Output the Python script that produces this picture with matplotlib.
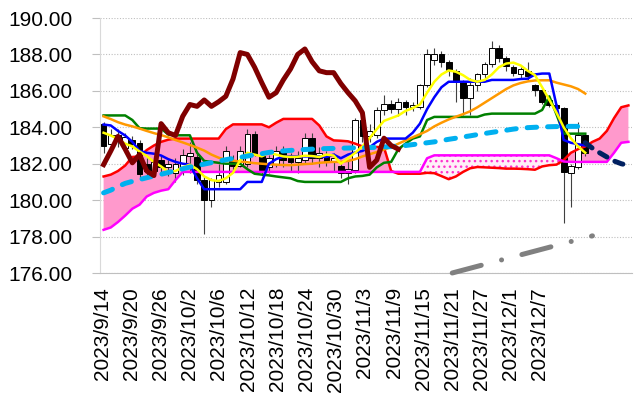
import numpy as np
import matplotlib.pyplot as plt
from matplotlib.ticker import FormatStrFormatter

plt.rcParams['font.family'] = ['Liberation Sans', 'DejaVu Sans']

# daily candles (one per trading day, category axis)
opens = [184.2, 183.1, 183.6, 182.85, 183.3, 183.14, 182.0, 181.6, 182.2, 181.8,
         181.5, 181.8, 182.4, 182.37, 181.12, 180.0, 181.0, 181.0, 182.2, 181.9,
         182.0, 183.65, 182.4, 181.8, 182.0, 182.7, 182.3, 182.1, 182.2, 183.4,
         182.3, 182.5, 182.1, 181.9, 181.5, 181.65, 184.4, 183.5, 183.6, 184.95,
         185.3, 185.0, 185.4, 185.1, 185.13, 186.32, 187.7, 188.05, 187.6, 187.1,
         186.5, 185.6, 186.3, 186.9, 187.5, 188.35, 187.8, 187.3, 186.95, 187.1,
         186.3, 186.05, 185.5, 185.25, 185.06, 181.5, 181.8, 183.6]
highs = [184.3, 183.9, 183.9, 183.7, 183.5, 183.3, 182.3, 182.4, 182.5, 182.2,
         182.3, 182.8, 183.2, 182.6, 181.3, 181.2, 182.0, 183.0, 182.5, 183.0,
         183.9, 183.8, 182.6, 182.5, 183.0, 183.0, 182.6, 182.7, 183.7, 183.7,
         182.9, 182.7, 182.6, 182.0, 182.2, 184.5, 184.6, 184.2, 185.1, 185.8,
         185.5, 185.6, 185.5, 185.4, 186.4, 188.3, 188.35, 188.2, 187.7, 187.2,
         186.6, 186.7, 187.0, 187.6, 188.75, 188.5, 187.9, 187.4, 187.3, 187.6,
         186.4, 186.1, 185.6, 185.3, 185.1, 182.0, 184.3, 183.7]
lows = [182.6, 182.8, 182.9, 182.6, 182.8, 181.2, 181.3, 181.4, 181.5, 181.3,
        181.0, 181.4, 181.5, 180.9, 178.16, 179.6, 180.7, 180.9, 181.6, 181.8,
        181.8, 182.4, 181.4, 181.5, 181.8, 181.8, 181.6, 181.5, 182.0, 182.0,
        181.8, 181.9, 181.6, 181.2, 180.9, 181.5, 183.2, 183.2, 183.4, 184.7,
        184.8, 184.6, 184.7, 184.9, 185.0, 186.2, 187.4, 187.3, 186.8, 185.4,
        184.7, 184.7, 186.0, 186.7, 187.3, 187.6, 187.1, 186.8, 186.7, 186.6,
        185.7, 185.3, 185.1, 184.95, 178.74, 179.6, 181.7, 182.4]
closes = [183.0, 183.6, 183.3, 183.45, 183.1, 181.45, 181.6, 182.1, 181.8, 182.0,
          182.0, 182.5, 182.6, 181.12, 180.0, 181.1, 181.4, 182.7, 181.9, 182.7,
          183.65, 182.5, 181.65, 182.3, 182.7, 182.2, 182.1, 182.3, 183.4, 182.3,
          182.6, 182.1, 182.3, 181.5, 181.7, 184.4, 183.5, 183.8, 184.95, 185.3,
          185.0, 185.4, 185.1, 185.25, 186.32, 188.05, 188.05, 187.6, 187.1, 186.5,
          185.6, 186.3, 186.9, 187.5, 188.35, 187.8, 187.35, 187.0, 187.2, 186.8,
          186.05, 185.4, 185.25, 185.06, 181.54, 181.9, 183.6, 182.6]

# conversion line (blue) and base line (green)
tenkan = [184.15, 184.1, 183.8, 183.55, 183.2, 182.7, 182.6, 182.55, 182.45, 182.25,
          182.1, 182.0, 181.95, 181.2, 180.6, 180.6, 180.6, 180.6, 180.6, 180.6,
          181.0, 181.0, 181.0, 182.0, 182.25, 182.4, 182.4, 182.4, 182.4, 182.4,
          182.4, 182.37, 182.5, 182.3, 182.5, 182.62, 182.7, 182.9, 183.2, 183.38,
          183.38, 183.38, 183.38, 183.7, 184.2, 185.0, 185.65, 186.2, 186.5, 186.5,
          186.5, 186.5, 186.5, 186.5, 186.6, 186.6, 186.6, 186.6, 186.65, 186.67,
          186.9, 186.95, 186.95, 185.2, 183.3, 183.15, 183.07, 183.0]
kijun = [184.65, 184.65, 184.65, 184.65, 184.4, 183.95, 183.93, 183.93, 183.93, 183.6,
         183.56, 183.56, 183.56, 182.6, 182.15, 182.1, 182.05, 182.0, 182.0, 182.0,
         181.7, 181.45, 181.4, 181.36, 181.3, 181.25, 181.2, 181.05, 181.0, 181.0,
         181.0, 181.0, 181.0, 181.0, 181.2, 181.3, 181.33, 181.4, 181.8, 182.05,
         182.1, 182.8, 183.1, 183.38, 183.5, 184.4, 184.57, 184.57, 184.57, 184.57,
         184.57, 184.57, 184.57, 184.7, 184.75, 184.75, 184.75, 184.75, 184.75, 184.75,
         184.75, 184.95, 185.7, 184.7, 183.65, 183.65, 183.65, 183.65]

# moving averages: short (yellow), medium (orange), long (light blue dashed)
ma_short = [183.7, 183.55, 183.35, 183.1, 182.95, 182.67, 182.42, 182.1, 181.85, 181.55,
            181.6, 181.8, 181.95, 181.7, 181.3, 181.1, 181.05, 181.2, 181.5, 182.2,
            182.6, 182.5, 182.4, 182.6, 182.5, 182.4, 182.37, 182.38, 182.44, 182.42,
            182.37, 182.5, 182.45, 182.0, 182.3, 182.6, 182.95, 183.4, 183.9, 184.35,
            184.5, 184.65, 184.9, 185.05, 185.25, 185.9, 186.5, 186.9, 187.12, 187.05,
            186.86, 186.6, 186.5, 186.6, 186.9, 187.3, 187.5, 187.55, 187.4, 187.1,
            186.86, 186.2, 185.5, 184.8, 184.0, 183.4, 182.95, 182.6]
ma_mid = [184.6, 184.45, 184.28, 184.15, 184.05, 183.93, 183.8, 183.68, 183.57, 183.45,
          183.3, 183.17, 183.03, 182.88, 182.72, 182.5, 182.33, 182.22, 182.17, 182.12,
          182.08, 182.03, 182.0, 181.97, 181.95, 181.93, 181.92, 181.95, 181.98, 182.0,
          182.05, 182.08, 182.1, 182.1, 182.15, 182.25, 182.4, 182.52, 182.64, 182.78,
          182.92, 183.1, 183.28, 183.45, 183.62, 183.8, 184.05, 184.25, 184.43, 184.58,
          184.72, 184.88, 185.1, 185.35, 185.6, 185.85, 186.1, 186.3, 186.43, 186.52,
          186.57, 186.58, 186.58, 186.45, 186.35, 186.25, 186.1, 185.85]
ma_long = [180.4, 180.55, 180.75, 180.92, 181.03, 181.13, 181.23, 181.33, 181.42, 181.52,
           181.62, 181.72, 181.82, 181.9, 181.98, 182.06, 182.14, 182.22, 182.29, 182.35,
           182.42, 182.49, 182.55, 182.62, 182.66, 182.7, 182.73, 182.76, 182.78, 182.8,
           182.82, 182.83, 182.84, 182.85, 182.86, 182.87, 182.88, 182.89, 182.9, 182.92,
           182.94, 182.97, 183.0, 183.05, 183.1, 183.15, 183.2, 183.27, 183.34, 183.4,
           183.47, 183.53, 183.6, 183.66, 183.72, 183.78, 183.84, 183.9, 183.95, 183.98,
           184.0, 184.02, 184.03, 184.04, 184.05, 184.05, 184.05, 184.05]

# lagging span (dark red), drawn 26 days back
chikou = [181.95, 182.7, 183.5, 182.8, 182.05, 182.5, 181.6, 181.35, 184.2, 183.7,
          183.55, 184.6, 185.25, 185.15, 185.5, 185.15, 185.4, 185.7, 186.65, 188.1,
          188.0, 187.3, 186.45, 185.65, 185.9, 186.6, 187.2, 188.0, 188.3, 187.6,
          187.1, 187.0, 187.0, 186.4, 185.9, 185.45, 184.8, 181.8, 182.2, 183.4,
          183.0, 182.8]

# leading spans (cloud), run further right than the candles
span_a = [181.3, 181.4, 181.6, 181.9, 182.37, 182.4, 182.75, 183.0, 183.2, 183.32,
          183.38, 183.38, 183.38, 183.38, 183.38, 183.38, 183.38, 183.9, 184.16, 184.16,
          184.16, 184.16, 184.16, 184.0, 184.25, 184.46, 184.46, 184.46, 184.46, 184.46,
          184.1, 183.5, 183.28, 183.26, 183.23, 183.1, 182.95, 182.92, 182.92, 182.9,
          181.6, 181.45, 181.45, 181.45, 181.45, 181.5, 181.48, 181.32, 181.15, 181.3,
          181.55, 181.75, 181.82, 181.8, 181.78, 181.76, 181.73, 181.73, 181.72, 181.7,
          181.67, 181.85, 181.92, 181.95, 182.2, 182.6, 182.8, 182.95, 183.2, 183.38,
          183.8, 184.5, 185.1, 185.2]
span_b = [178.37, 178.5, 178.8, 179.15, 179.53, 179.75, 180.2, 180.4, 180.52, 180.6,
          181.1, 181.55, 181.55, 181.55, 181.55, 181.55, 181.55, 181.55, 181.55, 181.55,
          181.55, 181.55, 181.55, 181.55, 181.55, 181.55, 181.55, 181.55, 181.55, 181.55,
          181.55, 181.55, 181.55, 181.55, 181.55, 181.55, 181.55, 181.55, 181.55, 181.55,
          181.55, 181.55, 181.55, 181.55, 181.55, 182.3, 182.46, 182.46, 182.46, 182.46,
          182.46, 182.46, 182.46, 182.46, 182.46, 182.46, 182.46, 182.46, 182.46, 182.46,
          182.46, 182.46, 182.46, 182.3, 182.12, 182.1, 182.1, 182.1, 182.1, 182.1,
          182.1, 182.6, 183.15, 183.2]

# navy dashed projection after the last candle
navy_idx = [67, 68, 69, 70, 71, 72, 73]
navy_vals = [183.15, 182.85, 182.6, 182.37, 182.15, 182.0, 181.9]

# gray support trend line (two end points)
trend_idx = [46, 68]
trend_vals = [175.74, 178.04]

date_labels = ['2023/9/14', '2023/9/20', '2023/9/26', '2023/10/2', '2023/10/6',
               '2023/10/12', '2023/10/18', '2023/10/24', '2023/10/30', '2023/11/3',
               '2023/11/9', '2023/11/15', '2023/11/21', '2023/11/27', '2023/12/1',
               '2023/12/7']

fig = plt.figure(figsize=(6.34, 3.97), dpi=100)
ax = fig.add_axes([100 / 634, 124 / 397, 532 / 634, 255 / 397])

xc = np.arange(len(closes))
xk = np.arange(len(span_a))
sa = np.array(span_a)
sb = np.array(span_b)

# cloud: solid pink where A is on top, dotted where B is on top
ax.fill_between(xk, sa, sb, where=sa >= sb, interpolate=True,
                facecolor='#FF99CC', edgecolor='none', zorder=1)
ax.fill_between(xk, sa, sb, where=sb > sa, interpolate=True,
                facecolor='#FFF0F8', hatch='...', edgecolor='#FF33CC', linewidth=0, zorder=1)

# candles
o = np.array(opens)
c = np.array(closes)
body_cols = ['black' if cc < oo else 'white' for oo, cc in zip(o, c)]
ax.vlines(xc, lows, highs, color='#404040', lw=0.8, zorder=3)
ax.bar(xc, np.maximum(np.abs(c - o), 0.04), bottom=np.minimum(o, c), width=0.8,
       color=body_cols, edgecolor='black', linewidth=0.7, zorder=4)

# indicator lines
ax.plot(xk, span_a, color='#FF0000', lw=1.8, zorder=5)
ax.plot(xk, span_b, color='#FF00FF', lw=1.8, zorder=5)
ax.plot(xc, kijun, color='#008000', lw=1.8, zorder=5)
ax.plot(xc, ma_mid, color='#FF9900', lw=1.8, zorder=5)
ax.plot(xc, tenkan, color='#0000FF', lw=1.8, zorder=6)
ax.plot(xc, ma_short, color='#FFFF00', lw=1.8, zorder=6)
ax.plot(xc, ma_long, color='#00B0F0', lw=3.6, dashes=(1.9, 2.2),
        dash_capstyle='round', zorder=7)
ax.plot(np.arange(len(chikou)), chikou, color='#800000', lw=3.6,
        solid_joinstyle='round', zorder=8)
ax.plot(navy_idx, navy_vals, color='#002060', lw=3.6, dashes=(1.7, 1.8),
        dash_capstyle='round', zorder=8)
ax.plot(trend_idx, trend_vals, color='#808080', lw=3.6,
        linestyle=(10.7, (6, 4.2, 0.01, 4.2)), dash_capstyle='round',
        clip_on=False, zorder=8)

ax.set_xlim(-0.5, 73.5)
ax.set_ylim(176, 190)
ax.set_yticks(np.arange(176, 191, 2))
ax.yaxis.set_major_formatter(FormatStrFormatter('%.2f'))
# date labels sit slightly wider apart than every 4th candle
ax.set_xticks([-0.2 + 4.06 * k for k in range(len(date_labels))])
ax.set_xticklabels(date_labels, rotation=90)
ax.tick_params(axis='x', length=0, pad=10, labelsize=15)
ax.tick_params(axis='y', length=6, color='#BFBFBF', pad=14, labelsize=15)

ax.grid(axis='y', color='#BFBFBF', linestyle=(0, (1, 1.5)), lw=0.8)
ax.set_axisbelow(True)
for s in ['top', 'right']:
    ax.spines[s].set_visible(False)
ax.spines['left'].set_color('#D9D9D9')
ax.spines['bottom'].set_color('#BFBFBF')

fig.savefig('out.png', dpi=100)
